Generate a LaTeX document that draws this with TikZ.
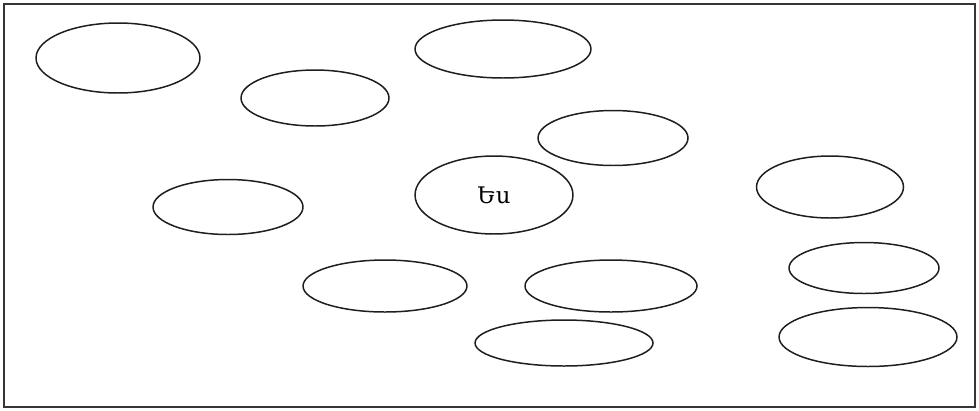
\documentclass[tikz,border=0pt]{standalone}
\usepackage{fontspec}
\newfontfamily\armfont{DejaVu Serif}
\usetikzlibrary{shapes.geometric}
\definecolor{ink}{HTML}{1E1E1E}
\tikzset{oval/.style 2 args={ellipse,draw=ink,line width=.85pt,inner sep=0pt,
    minimum width=#1,minimum height=#2},
  frame/.style={draw=ink!90,line width=1.1pt}}
\begin{document}
\begin{tikzpicture}[x=.02cm,y=-.02cm]
\useasboundingbox (0,0) rectangle (979,410);
\draw[frame] (4,4) rectangle (975,407);
% the self in the middle, the others scattered round it
\node[oval={3.16cm}{1.56cm},font=\armfont\fontsize{13}{15}\selectfont] (me) at (494,195) {Ես};
\node[oval={3.28cm}{1.4cm}]  (o1)  at (118,58) {};
\node[oval={2.96cm}{1.12cm}] (o2)  at (315,98) {};
\node[oval={3.52cm}{1.16cm}] (o3)  at (503,49) {};
\node[oval={3.0cm}{1.1cm}]   (o4)  at (613,138) {};
\node[oval={3.0cm}{1.1cm}]   (o5)  at (228,207) {};
\node[oval={2.94cm}{1.24cm}] (o6)  at (830,187) {};
\node[oval={3.0cm}{1.02cm}]  (o7)  at (864,268) {};
\node[oval={3.28cm}{1.04cm}] (o8)  at (385,286) {};
\node[oval={3.44cm}{1.04cm}] (o9)  at (611,286) {};
\node[oval={3.56cm}{.92cm}]  (o10) at (564,343) {};
\node[oval={3.56cm}{1.18cm}] (o11) at (868,337) {};
\end{tikzpicture}
\end{document}
